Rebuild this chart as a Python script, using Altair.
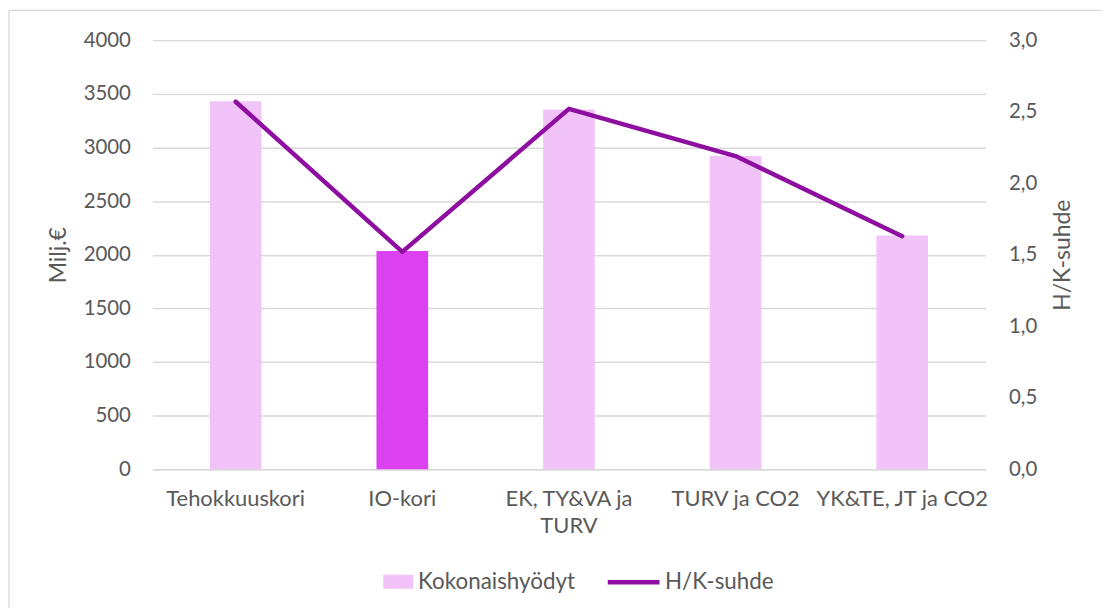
import altair as alt
import pandas as pd

categories = ["Tehokkuuskori", "IO-kori", "EK, TY&VA ja TURV", "TURV ja CO2", "YK&TE, JT ja CO2"]
kokonaishyodyt = [3430, 2035, 3355, 2920, 2180]
hk_suhde = [2.57, 1.52, 2.52, 2.19, 1.63]
highlight = "IO-kori"

FONT = "Lato"
TXT = "#595959"
GRID = "#D9D9D9"
BAR_C = "#F2C3F8"
BAR_HI = "#DC41F1"
LINE_C = "#8E0EA0"

df = pd.DataFrame({
    "cat": categories,
    "val": kokonaishyodyt,
    "hk": hk_suhde,
    "s1": ["Kokonaishyödyt"] * len(categories),
    "s2": ["H/K-suhde"] * len(categories),
})

W, H = 837, 431
LEFT, TOP = 145, 31

xenc = alt.X("cat:N", sort=categories, title=None,
             scale=alt.Scale(paddingInner=0, paddingOuter=0),
             axis=alt.Axis(labelAngle=0, labelFont=FONT, labelFontSize=22, labelColor=TXT,
                           labelPadding=19, ticks=False, domainColor=GRID, domainWidth=1.3,
                           labelLineHeight=28, labelOverlap=False,
                           labelExpr="datum.label == 'EK, TY&VA ja TURV' ? ['EK, TY&VA ja', 'TURV'] : datum.label"))

base = alt.Chart(df)

border = alt.Chart(alt.Data(values=[{"a": 1}])).mark_rect(
    fillOpacity=0, stroke=GRID, strokeWidth=1.3
).encode(
    x=alt.value(-144), x2=alt.value(W + 140),
    y=alt.value(-30), y2=alt.value(H + 160),
)

bars = base.mark_bar(width=alt.RelativeBandSize(0.31)).encode(
    x=xenc,
    y=alt.Y("val:Q", title="Milj.€",
            scale=alt.Scale(domain=[0, 4000], nice=False),
            axis=alt.Axis(values=list(range(0, 4001, 500)), format="d", labelFont=FONT, labelFontSize=20.5,
                          labelColor=TXT, labelPadding=22, ticks=False, domain=False,
                          grid=True, gridColor=GRID, gridWidth=1.3,
                          titleFont=FONT, titleFontSize=23, titleColor=TXT, titleFontWeight="normal",
                          titleAngle=270, titleX=-94, titleY=H / 2, titleBaseline="middle",
                          titleAlign="center")),
    fill=alt.condition(f"datum.cat == '{highlight}'", alt.value(BAR_HI),
                       alt.Fill("s1:N", scale=alt.Scale(domain=["Kokonaishyödyt"], range=[BAR_C]),
                                legend=alt.Legend(title=None, orient="none", legendX=232, legendY=529,
                                                  symbolType="M-1,-0.47H1V0.47H-1Z", symbolSize=900,
                                                  symbolStrokeWidth=0, labelFont=FONT, labelFontSize=22.5,
                                                  labelColor=TXT, labelOffset=5))),
)

line = base.mark_line(strokeWidth=4.5, strokeCap="round", strokeJoin="round").encode(
    x=xenc,
    y=alt.Y("hk:Q", title="H/K-suhde",
            scale=alt.Scale(domain=[0, 3.0], nice=False),
            axis=alt.Axis(orient="right", values=[0, 0.5, 1.0, 1.5, 2.0, 2.5, 3.0],
                          labelExpr="replace(format(datum.value, '.1f'), '.', ',')",
                          labelFont=FONT, labelFontSize=20.5, labelColor=TXT, labelPadding=23,
                          ticks=False, domain=False, grid=False,
                          titleFont=FONT, titleFontSize=23, titleColor=TXT, titleFontWeight="normal",
                          titleAngle=270, titleX=77, titleY=H / 2, titleBaseline="middle",
                          titleAlign="center")),
    stroke=alt.Stroke("s2:N", scale=alt.Scale(domain=["H/K-suhde"], range=[LINE_C]),
                      legend=alt.Legend(title=None, orient="none", legendX=455, legendY=516,
                                        symbolType="stroke", symbolSize=2704, symbolStrokeWidth=4.5,
                                        labelFont=FONT, labelFontSize=22.5, labelColor=TXT, labelOffset=3)),
)

chart = alt.layer(border, bars, line).resolve_scale(y="independent").properties(
    width=W, height=H,
    padding={"left": LEFT, "top": TOP, "right": 1098 - LEFT - W, "bottom": 138},
    autosize=alt.AutoSizeParams(type="none"),
    background="white",
).configure_view(stroke=None)

chart.save("out.html", embed_options={"renderer": "svg", "actions": False})
